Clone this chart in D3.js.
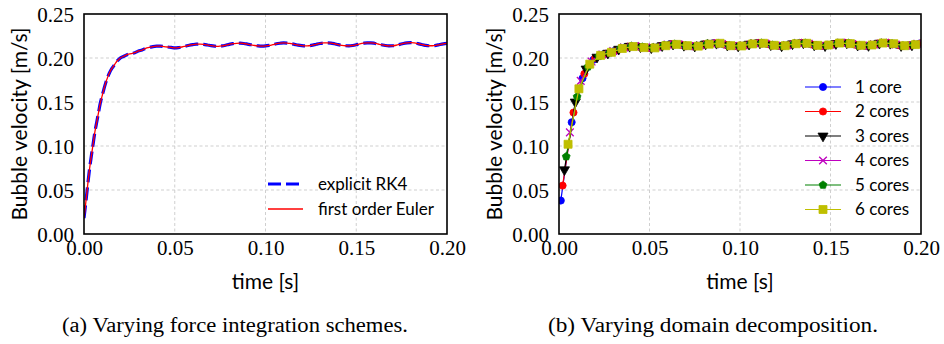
<!DOCTYPE html>
<html>
<head>
<meta charset="utf-8">
<script src="https://cdn.jsdelivr.net/npm/d3@7/dist/d3.min.js"></script>
<style>
  html, body { margin: 0; padding: 0; background: #fff; }
  svg { display: block; }
</style>
</head>
<body>
<svg id="fig" width="944" height="344"></svg>
<script>
// ---- axis ticks ----
const xTicks = [0, 0.05, 0.10, 0.15, 0.20];
const yTicks = [0, 0.05, 0.10, 0.15, 0.20, 0.25];

// ---- panel (a): force integration schemes ----
const integrationTime = [
  0, 0.001, 0.002, 0.003, 0.004, 0.005, 0.006, 0.007, 0.008, 0.009, 0.010,
  0.011, 0.012, 0.013, 0.014, 0.015, 0.016, 0.017, 0.018, 0.019, 0.020,
  0.022, 0.024, 0.026, 0.028, 0.030, 0.032, 0.034, 0.036, 0.038, 0.040,
  0.042, 0.044, 0.046, 0.048, 0.050, 0.052, 0.054, 0.056, 0.058, 0.060,
  0.062, 0.064, 0.066, 0.068, 0.070, 0.072, 0.074, 0.076, 0.078, 0.080,
  0.082, 0.084, 0.086, 0.088, 0.090, 0.092, 0.094, 0.096, 0.098, 0.100,
  0.102, 0.104, 0.106, 0.108, 0.110, 0.112, 0.114, 0.116, 0.118, 0.120,
  0.122, 0.124, 0.126, 0.128, 0.130, 0.132, 0.134, 0.136, 0.138, 0.140,
  0.142, 0.144, 0.146, 0.148, 0.150, 0.152, 0.154, 0.156, 0.158, 0.160,
  0.162, 0.164, 0.166, 0.168, 0.170, 0.172, 0.174, 0.176, 0.178, 0.180,
  0.182, 0.184, 0.186, 0.188, 0.190, 0.192, 0.194, 0.196, 0.198, 0.200
];
const rk4Velocity = [
  0.018, 0.036, 0.055, 0.073, 0.088, 0.102, 0.116, 0.127, 0.138, 0.149, 0.157,
  0.165, 0.172, 0.178, 0.183, 0.187, 0.190, 0.193, 0.196, 0.198, 0.200,
  0.202, 0.204, 0.205, 0.206, 0.208, 0.209, 0.211, 0.212, 0.213, 0.2135,
  0.2135, 0.2130, 0.2125, 0.2120, 0.2115, 0.2118, 0.2125, 0.2135, 0.2145, 0.2152,
  0.2157, 0.2158, 0.2155, 0.2148, 0.2140, 0.2135, 0.2133, 0.2137, 0.2145, 0.2155,
  0.2163, 0.2167, 0.2168, 0.2165, 0.2158, 0.2150, 0.2142, 0.2137, 0.2135, 0.2137,
  0.2143, 0.2152, 0.2162, 0.2168, 0.2172, 0.2170, 0.2163, 0.2155, 0.2146, 0.2140,
  0.2137, 0.2139, 0.2146, 0.2156, 0.2165, 0.2171, 0.2173, 0.2170, 0.2162, 0.2152,
  0.2144, 0.2139, 0.2138, 0.2142, 0.2150, 0.2160, 0.2168, 0.2173, 0.2173, 0.2168,
  0.2159, 0.2150, 0.2142, 0.2138, 0.2139, 0.2145, 0.2155, 0.2165, 0.2171, 0.2174,
  0.2171, 0.2163, 0.2153, 0.2144, 0.2139, 0.2139, 0.2144, 0.2153, 0.2161, 0.2167
];
const eulerVelocity = [
  0.018, 0.036, 0.055, 0.073, 0.088, 0.102, 0.116, 0.127, 0.138, 0.149, 0.157,
  0.165, 0.172, 0.178, 0.183, 0.187, 0.190, 0.193, 0.196, 0.198, 0.200,
  0.202, 0.204, 0.205, 0.206, 0.208, 0.209, 0.211, 0.212, 0.213, 0.2135,
  0.2135, 0.2130, 0.2125, 0.2120, 0.2115, 0.2118, 0.2125, 0.2135, 0.2145, 0.2152,
  0.2157, 0.2158, 0.2155, 0.2148, 0.2140, 0.2135, 0.2133, 0.2137, 0.2145, 0.2155,
  0.2163, 0.2167, 0.2168, 0.2165, 0.2158, 0.2150, 0.2142, 0.2137, 0.2135, 0.2137,
  0.2143, 0.2152, 0.2162, 0.2168, 0.2172, 0.2170, 0.2163, 0.2155, 0.2146, 0.2140,
  0.2137, 0.2139, 0.2146, 0.2156, 0.2165, 0.2171, 0.2173, 0.2170, 0.2162, 0.2152,
  0.2144, 0.2139, 0.2138, 0.2142, 0.2150, 0.2160, 0.2168, 0.2173, 0.2173, 0.2168,
  0.2159, 0.2150, 0.2142, 0.2138, 0.2139, 0.2145, 0.2155, 0.2165, 0.2171, 0.2174,
  0.2171, 0.2163, 0.2153, 0.2144, 0.2139, 0.2139, 0.2144, 0.2153, 0.2161, 0.2167
];
const integrationLabels = ["explicit RK4", "first order Euler"];

// ---- panel (b): domain decomposition ----
const coreLabels = ["1 core", "2 cores", "3 cores", "4 cores", "5 cores", "6 cores"];

const time1core = [0.001, 0.007, 0.013, 0.019, 0.025, 0.031, 0.037, 0.043, 0.049, 0.055, 0.061, 0.067,
  0.073, 0.079, 0.085, 0.091, 0.097, 0.103, 0.109, 0.115, 0.121, 0.127, 0.133, 0.139, 0.145, 0.151,
  0.157, 0.163, 0.169, 0.175, 0.181, 0.187, 0.193, 0.199];
const vel1core = [0.038, 0.127, 0.177, 0.198, 0.2045, 0.2085, 0.2125, 0.2133, 0.2118, 0.2130, 0.2155, 0.2152,
  0.2134, 0.2150, 0.2168, 0.2154, 0.2136, 0.2148, 0.2170, 0.2159, 0.2138, 0.2151, 0.2172, 0.2157, 0.2138, 0.2155,
  0.2173, 0.2155, 0.2138, 0.2160, 0.2173, 0.2148, 0.2141, 0.2164];

const time2cores = [0.002, 0.008, 0.014, 0.020, 0.026, 0.032, 0.038, 0.044, 0.050, 0.056, 0.062, 0.068,
  0.074, 0.080, 0.086, 0.092, 0.098, 0.104, 0.110, 0.116, 0.122, 0.128, 0.134, 0.140, 0.146, 0.152,
  0.158, 0.164, 0.170, 0.176, 0.182, 0.188, 0.194, 0.200];
const vel2cores = [0.055, 0.138, 0.182, 0.200, 0.205, 0.209, 0.2130, 0.2130, 0.2115, 0.2135, 0.2157, 0.2148,
  0.2133, 0.2155, 0.2168, 0.2150, 0.2135, 0.2152, 0.2172, 0.2155, 0.2137, 0.2156, 0.2173, 0.2152, 0.2138, 0.2160,
  0.2173, 0.2150, 0.2139, 0.2165, 0.2171, 0.2144, 0.2144, 0.2167];

const time3cores = [0.003, 0.009, 0.015, 0.021, 0.027, 0.033, 0.039, 0.045, 0.051, 0.057, 0.063, 0.069,
  0.075, 0.081, 0.087, 0.093, 0.099, 0.105, 0.111, 0.117, 0.123, 0.129, 0.135, 0.141, 0.147, 0.153,
  0.159, 0.165, 0.171, 0.177, 0.183, 0.189, 0.195];
const vel3cores = [0.073, 0.150, 0.1875, 0.201, 0.2055, 0.2100, 0.2133, 0.2128, 0.2116, 0.2140, 0.2158, 0.2144,
  0.2135, 0.2159, 0.2167, 0.2146, 0.2136, 0.2157, 0.2171, 0.2150, 0.2138, 0.2161, 0.2172, 0.2148, 0.2140, 0.2164,
  0.2171, 0.2146, 0.2142, 0.2168, 0.2167, 0.2141, 0.2148];

const time4cores = [0.006, 0.012, 0.018, 0.024, 0.030, 0.036, 0.042, 0.048, 0.054, 0.060, 0.066, 0.072,
  0.078, 0.084, 0.090, 0.096, 0.102, 0.108, 0.114, 0.120, 0.126, 0.132, 0.138, 0.144, 0.150, 0.156,
  0.162, 0.168, 0.174, 0.180, 0.186, 0.192, 0.198];
const vel4cores = [0.1155, 0.174, 0.196, 0.204, 0.208, 0.212, 0.2135, 0.2120, 0.2125, 0.2152, 0.2155, 0.2135,
  0.2145, 0.2167, 0.2158, 0.2137, 0.2143, 0.2168, 0.2163, 0.2140, 0.2146, 0.2171, 0.2162, 0.2139, 0.2150, 0.2173,
  0.2159, 0.2138, 0.2155, 0.2174, 0.2153, 0.2139, 0.2161];

const time5cores = [0.004, 0.010, 0.016, 0.022, 0.028, 0.034, 0.040, 0.046, 0.052, 0.058, 0.064, 0.070,
  0.076, 0.082, 0.088, 0.094, 0.100, 0.106, 0.112, 0.118, 0.124, 0.130, 0.136, 0.142, 0.148, 0.154,
  0.160, 0.166, 0.172, 0.178, 0.184, 0.190, 0.196];
const vel5cores = [0.088, 0.156, 0.190, 0.202, 0.206, 0.211, 0.2135, 0.2125, 0.2118, 0.2145, 0.2158, 0.2140,
  0.2137, 0.2163, 0.2165, 0.2142, 0.2137, 0.2162, 0.2170, 0.2146, 0.2139, 0.2165, 0.2170, 0.2144, 0.2142, 0.2168,
  0.2168, 0.2142, 0.2145, 0.2171, 0.2163, 0.2139, 0.2153];

const time6cores = [0.005, 0.011, 0.017, 0.023, 0.029, 0.035, 0.041, 0.047, 0.053, 0.059, 0.065, 0.071,
  0.077, 0.083, 0.089, 0.095, 0.101, 0.107, 0.113, 0.119, 0.125, 0.131, 0.137, 0.143, 0.149, 0.155,
  0.161, 0.167, 0.173, 0.179, 0.185, 0.191, 0.197];
const vel6cores = [0.102, 0.165, 0.193, 0.203, 0.2065, 0.2108, 0.2130, 0.2118, 0.2115, 0.2140, 0.2155, 0.2140,
  0.2135, 0.2157, 0.2167, 0.2140, 0.2137, 0.2160, 0.2167, 0.2144, 0.2140, 0.2162, 0.2167, 0.2144, 0.2148, 0.2170,
  0.2163, 0.2144, 0.2148, 0.2170, 0.2162, 0.2140, 0.2152];

const captions = ["(a) Varying force integration schemes.", "(b) Varying domain decomposition."];

// ---- styling ----
const SERIF = "'Liberation Serif', 'Times New Roman', serif";
const SANS = "Lato, 'Open Sans', sans-serif";

// a pentagon marker built as a custom d3 symbol type
const symbolPentagon = {
  draw(context, size) {
    const r = Math.sqrt(size / 2.3776);
    for (let i = 0; i < 5; i++) {
      const a = -Math.PI / 2 + i * 2 * Math.PI / 5;
      const px = r * Math.cos(a), py = r * Math.sin(a);
      if (i === 0) context.moveTo(px, py); else context.lineTo(px, py);
    }
    context.closePath();
  }
};

const coreSeries = [
  { label: coreLabels[0], t: time1core,  v: vel1core,  color: "#0000ff", symbol: d3.symbolCircle,   size: 40, rot: 0,   stroke: false },
  { label: coreLabels[1], t: time2cores, v: vel2cores, color: "#ff0000", symbol: d3.symbolCircle,   size: 40, rot: 0,   stroke: false },
  { label: coreLabels[2], t: time3cores, v: vel3cores, color: "#000000", symbol: d3.symbolTriangle, size: 44, rot: 180, stroke: false },
  { label: coreLabels[3], t: time4cores, v: vel4cores, color: "#bf00bf", symbol: d3.symbolTimes,    size: 40, rot: 0,   stroke: true },
  { label: coreLabels[4], t: time5cores, v: vel5cores, color: "#008000", symbol: symbolPentagon,    size: 40, rot: 0,   stroke: false },
  { label: coreLabels[5], t: time6cores, v: vel6cores, color: "#bfbf00", symbol: d3.symbolSquare,   size: 64, rot: 0,   stroke: false }
];

const svg = d3.select("#fig");
const plotTop = 14, plotBottom = 234;

function makePanel(left, right, id) {
  const x = d3.scaleLinear().domain([0, 0.20]).range([left, right]);
  const y = d3.scaleLinear().domain([0, 0.25]).range([plotBottom, plotTop]);
  const g = svg.append("g");

  svg.append("clipPath").attr("id", id)
    .append("rect").attr("x", left).attr("y", plotTop)
    .attr("width", right - left).attr("height", plotBottom - plotTop);

  // dashed grid
  g.append("g").selectAll("line").data(xTicks.slice(1, -1)).join("line")
    .attr("x1", d => x(d)).attr("x2", d => x(d))
    .attr("y1", plotTop).attr("y2", plotBottom)
    .attr("stroke", "#cfcfcf").attr("stroke-width", 1).attr("stroke-dasharray", "3,2.5");
  g.append("g").selectAll("line").data(yTicks.slice(1, -1)).join("line")
    .attr("y1", d => y(d)).attr("y2", d => y(d))
    .attr("x1", left).attr("x2", right)
    .attr("stroke", "#cfcfcf").attr("stroke-width", 1).attr("stroke-dasharray", "3,2.5");

  // bottom axis labels
  const xAxis = d3.axisBottom(x).tickValues(xTicks).tickFormat(d3.format(".2f")).tickSize(0).tickPadding(0);
  const xa = g.append("g").attr("transform", `translate(0,${plotBottom})`).call(xAxis);
  xa.select(".domain").remove();
  xa.attr("font-family", null).attr("font-size", null);
  xa.selectAll("text").style("font-family", SERIF).style("font-size", "21px").attr("fill", "#000")
    .attr("dy", null).attr("y", 21);

  // left axis labels
  const yAxis = d3.axisLeft(y).tickValues(yTicks).tickFormat(d3.format(".2f")).tickSize(0).tickPadding(10);
  const ya = g.append("g").attr("transform", `translate(${left},0)`).call(yAxis);
  ya.select(".domain").remove();
  ya.attr("font-family", null).attr("font-size", null);
  ya.selectAll("text").style("font-family", SERIF).style("font-size", "21px").attr("fill", "#000")
    .attr("dy", "0.36em");

  // axis titles
  g.append("text").attr("x", (left + right) / 2).attr("y", 289)
    .attr("text-anchor", "middle").style("font-family", SANS).style("font-size", "21px")
    .text("time [s]");
  g.append("text").attr("transform", `translate(${left - 57},${(plotTop + plotBottom) / 2}) rotate(-90)`)
    .attr("text-anchor", "middle").style("font-family", SANS).style("font-size", "21px")
    .text("Bubble velocity [m/s]");

  return { x, y, g };
}

// ---------- panel (a) ----------
const pa = makePanel(84, 447, "clipA");
const lineA = d3.line().x(d => pa.x(d[0])).y(d => pa.y(d[1])).curve(d3.curveMonotoneX);
const dataA = [
  { label: integrationLabels[0], pts: d3.zip(integrationTime, rk4Velocity), color: "#0000ff", width: 3.2, dash: "13,5" },
  { label: integrationLabels[1], pts: d3.zip(integrationTime, eulerVelocity), color: "#ff0000", width: 1.3, dash: null }
];
const curvesA = pa.g.append("g").attr("clip-path", "url(#clipA)");
dataA.forEach(s => {
  curvesA.append("path").attr("d", lineA(s.pts)).attr("fill", "none")
    .attr("stroke", s.color).attr("stroke-width", s.width)
    .attr("stroke-dasharray", s.dash);
});
const legA = pa.g.append("g");
dataA.forEach((s, i) => {
  const ly = 184 + i * 25;
  legA.append("line").attr("x1", 268).attr("x2", 303).attr("y1", ly).attr("y2", ly)
    .attr("stroke", s.color).attr("stroke-width", s.width).attr("stroke-dasharray", s.dash);
  legA.append("text").attr("x", 318).attr("y", ly).attr("dy", "0.35em")
    .style("font-family", SANS).style("font-size", "17px").text(s.label);
});
pa.g.append("rect").attr("x", 84).attr("y", plotTop).attr("width", 447 - 84).attr("height", plotBottom - plotTop)
  .attr("fill", "none").attr("stroke", "#000").attr("stroke-width", 1.6);

// ---------- panel (b) ----------
const pb = makePanel(559, 921, "clipB");
const lineB = d3.line().x(d => pb.x(d[0])).y(d => pb.y(d[1]));
const curvesB = pb.g.append("g").attr("clip-path", "url(#clipB)");

function drawMarker(sel, s) {
  const path = d3.symbol().type(s.symbol).size(s.size)();
  return sel.append("path").attr("d", path)
    .attr("fill", s.stroke ? "none" : s.color)
    .attr("stroke", s.color).attr("stroke-width", s.stroke ? 1.3 : 0.8);
}

coreSeries.forEach(s => {
  const pts = d3.zip(s.t, s.v);
  curvesB.append("path").attr("d", lineB(pts)).attr("fill", "none")
    .attr("stroke", s.color).attr("stroke-width", 1.2);
  const mk = curvesB.append("g");
  pts.forEach(p => {
    drawMarker(mk, s).attr("transform", `translate(${pb.x(p[0])},${pb.y(p[1])}) rotate(${s.rot})`);
  });
});

const legB = pb.g.append("g");
coreSeries.forEach((s, i) => {
  const ly = 87 + i * 24.5;
  legB.append("line").attr("x1", 805).attr("x2", 841).attr("y1", ly).attr("y2", ly)
    .attr("stroke", s.color).attr("stroke-width", 1.2);
  drawMarker(legB, s).attr("transform", `translate(823,${ly}) rotate(${s.rot})`);
  legB.append("text").attr("x", 855).attr("y", ly).attr("dy", "0.35em")
    .style("font-family", SANS).style("font-size", "17px").text(s.label);
});
pb.g.append("rect").attr("x", 559).attr("y", plotTop).attr("width", 921 - 559).attr("height", plotBottom - plotTop)
  .attr("fill", "none").attr("stroke", "#000").attr("stroke-width", 1.6);

// ---------- captions ----------
svg.append("text").attr("x", 62).attr("y", 332)
  .style("font-family", SERIF).style("font-size", "20.5px")
  .attr("textLength", 346).attr("lengthAdjust", "spacingAndGlyphs").text(captions[0]);
svg.append("text").attr("x", 548).attr("y", 332)
  .style("font-family", SERIF).style("font-size", "20.5px")
  .attr("textLength", 330).attr("lengthAdjust", "spacingAndGlyphs").text(captions[1]);
</script>
</body>
</html>
